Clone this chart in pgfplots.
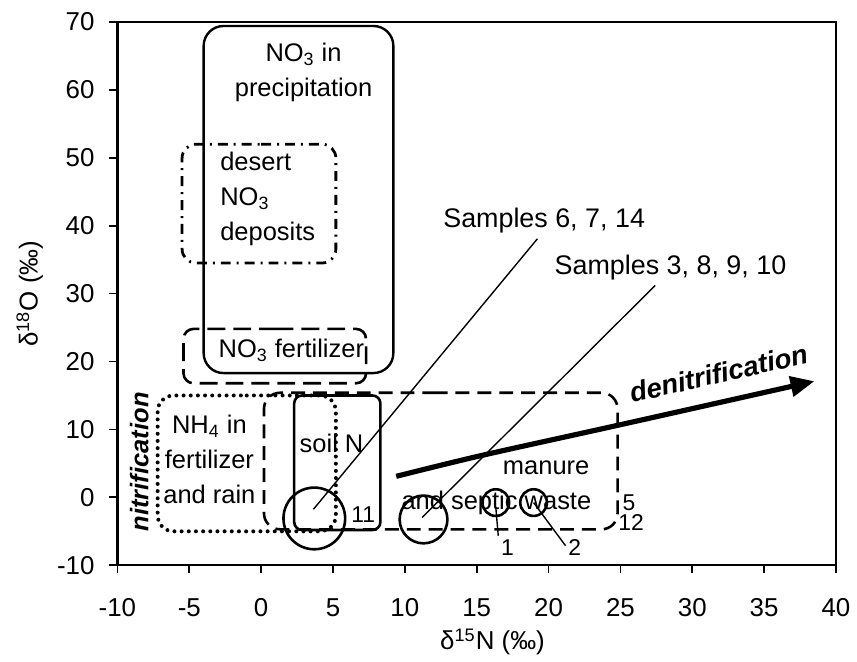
\documentclass[border=0pt]{standalone}
\usepackage{fontspec}
\setmainfont{Liberation Sans}
\usepackage{pgfplots}
\pgfplotsset{compat=1.18}
\usetikzlibrary{arrows.meta}

\begin{document}
\begin{tikzpicture}
\begin{axis}[
  scale only axis,
  width=361pt, height=273pt,
  xmin=-10, xmax=40, ymin=-10, ymax=70,
  xtick={-10,-5,...,40}, ytick={-10,0,...,70},
  tick pos=left,
  tick align=outside, major tick length=4pt,
  axis line style={line width=1.1pt},
  tick style={black, line width=0.9pt},
  tick label style={font=\fontsize{13}{15}\selectfont},
  /pgf/number format/assume math mode=true,
  xticklabel style={yshift=-9pt},
  yticklabel style={xshift=-4pt},
  xlabel={δ\textsuperscript{15}N (‰)},
  ylabel={δ\textsuperscript{18}O (‰)},
  label style={font=\fontsize{13}{15}\selectfont},
  xlabel style={at={(axis description cs:0.522,-0.141)}, anchor=center},
  ylabel style={at={(axis description cs:-0.122,0.5)}, anchor=center},
  clip=false,
]
% page size
\path (rel axis cs:-0.1634,-0.1685) rectangle (rel axis cs:1.0235,1.0403);

% source boxes
\addplot[black, line width=1.2pt, rounded corners=10pt] coordinates {
  (2.6,69.4) (9.2,69.4) (9.2,18.3) (-4,18.3) (-4,69.4) (2.6,69.4)};
\addplot[black, line width=1.4pt, rounded corners=7pt,
  dash pattern=on 5pt off 3pt on 1pt off 3pt] coordinates {
  (0,52) (5.2,52) (5.2,34.5) (-5.5,34.5) (-5.5,52) (0,52)};
\addplot[black, line width=1.3pt, rounded corners=5pt,
  dash pattern=on 9pt off 4pt] coordinates {
  (1,24.8) (7.3,24.8) (7.3,16.8) (-5.4,16.8) (-5.4,24.8) (1,24.8)};
\addplot[black, line width=2pt, rounded corners=8pt, line cap=round,
  dash pattern=on 0pt off 3.6pt] coordinates {
  (-1,15) (5.2,15) (5.2,-5) (-7.2,-5) (-7.2,15) (-1,15)};
\addplot[black, line width=1.3pt, rounded corners=4pt] coordinates {
  (5.3,15) (8.3,15) (8.3,-4.8) (2.3,-4.8) (2.3,15) (5.3,15)};
\addplot[black, line width=1.3pt, rounded corners=8pt,
  dash pattern=on 7pt off 4pt] coordinates {
  (12,15.4) (24.8,15.4) (24.8,-4.7) (0.2,-4.7) (0.2,15.4) (12,15.4)};

% sample circles
\addplot[black, only marks, mark=o, mark size=15.5pt, line width=1.3pt]
  coordinates {(3.7,-3.1)};
\addplot[black, only marks, mark=o, mark size=12pt, line width=1.3pt]
  coordinates {(11.3,-3.25)};
\addplot[black, only marks, mark=o, mark size=6.7pt, line width=1.3pt]
  coordinates {(16.33,-0.77) (18.96,-0.77)};

% leader lines
\addplot[black, line width=0.7pt] coordinates {(3.64,-1.75) (19.22,38.06)};
\addplot[black, line width=0.7pt] coordinates {(11.2,-2.97) (27.42,31.2)};
\addplot[black, line width=0.7pt] coordinates {(16.33,-1.5) (16.5,-5.65)};
\addplot[black, line width=0.7pt] coordinates {(18.96,-0.77) (21.18,-7.11)};

% denitrification arrow
\addplot[black, line width=2.6pt, smooth, -{Triangle[length=12pt,width=10pt]}]
  coordinates {(9.4,3.1) (15.4,6.2) (24.9,10.65) (38.5,17.1)};

% labels
\begin{scope}[every node/.style={font=\fontsize{12.8}{17.5}\selectfont, inner sep=0pt}]
\node[align=center] at (axis cs:2.95,62.6) {NO\textsubscript{3} in\\precipitation};
\node[align=left, anchor=west] at (axis cs:-2.87,43.9) {desert\\NO\textsubscript{3}\\deposits};
\node at (axis cs:2.1,21.6) {NO\textsubscript{3} fertilizer};
\node[align=center] at (axis cs:-3.6,5.6) {NH\textsubscript{4} in\\fertilizer\\and rain};
\node at (axis cs:4.9,8.0) {soil N};
\node[anchor=west] at (axis cs:16.8,4.36) {manure};
\node[anchor=west] at (axis cs:9.74,-0.77) {and septic waste};
\node[anchor=west, font=\fontsize{13.5}{16}\selectfont] at (axis cs:12.65,40.7) {Samples 6, 7, 14};
\node[anchor=west, font=\fontsize{13.5}{16}\selectfont] at (axis cs:20.4,33.8) {Samples 3, 8, 9, 10};
\begin{scope}[every node/.append style={font=\fontsize{11.5}{13}\selectfont}]
\node at (axis cs:7.1,-2.6) {11};
\node at (axis cs:17.15,-7.36) {1};
\node at (axis cs:21.83,-7.36) {2};
\node at (axis cs:25.6,-0.77) {5};
\node at (axis cs:25.75,-3.75) {12};
\end{scope}
\node[font=\fontsize{13.8}{15}\selectfont\bfseries\itshape, rotate=12.7]
  at (axis cs:31.83,18.28) {denitrification};
\node[font=\fontsize{12.8}{14}\selectfont\bfseries\itshape, rotate=90]
  at (axis cs:-8.48,5.24) {nitrification};
\end{scope}
\end{axis}
\end{tikzpicture}
\end{document}
